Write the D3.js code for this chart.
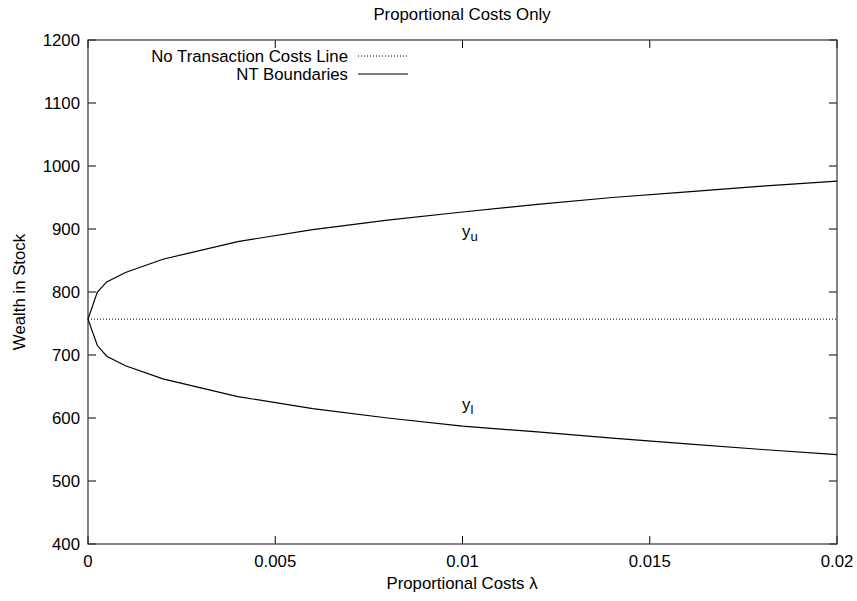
<!DOCTYPE html>
<html><head><meta charset="utf-8">
<script src="https://cdn.jsdelivr.net/npm/d3@7"></script>
<style>body{margin:0;background:#fff}svg{display:block}text{font-family:"Liberation Sans",Arial,sans-serif;fill:#000}</style>
</head><body>
<script>
const lambdas = [0, 0.00025, 0.0005, 0.001, 0.002, 0.004, 0.006, 0.008, 0.01, 0.012, 0.014, 0.016, 0.018, 0.02];
const upper   = [757, 800, 816, 831, 852, 880, 899, 914, 927, 939, 950, 959, 968, 976];
const lower   = [757, 715, 698, 683, 662, 634, 615, 600, 587, 578, 568, 559, 550, 542];
const noTC = 757;
const xTicks = [0, 0.005, 0.01, 0.015, 0.02];
const xTickLabels = ["0", "0.005", "0.01", "0.015", "0.02"];
const yTicks = [400, 500, 600, 700, 800, 900, 1000, 1100, 1200];

const W = 857, H = 601;
const m = {l: 88, r: 20, t: 40, b: 57};
const FS = 16.8;
const svg = d3.select("body").append("svg").attr("width", W).attr("height", H);
const x = d3.scaleLinear().domain([0, 0.02]).range([m.l, W - m.r]);
const y = d3.scaleLinear().domain([400, 1200]).range([H - m.b, m.t]);
const T = 8;
const g = svg.append("g");

// ticks (mirrored, inward)
yTicks.forEach(v => {
  g.append("line").attr("x1", x.range()[0]).attr("x2", x.range()[0] + T).attr("y1", y(v)).attr("y2", y(v)).attr("stroke", "#000");
  g.append("line").attr("x1", x.range()[1]).attr("x2", x.range()[1] - T).attr("y1", y(v)).attr("y2", y(v)).attr("stroke", "#000");
  g.append("text").attr("x", x.range()[0] - 8).attr("y", y(v) + 6).attr("text-anchor", "end").attr("font-size", FS).text(v);
});
xTicks.forEach((v, i) => {
  g.append("line").attr("x1", x(v)).attr("x2", x(v)).attr("y1", y.range()[0]).attr("y2", y.range()[0] - T).attr("stroke", "#000");
  g.append("line").attr("x1", x(v)).attr("x2", x(v)).attr("y1", y.range()[1]).attr("y2", y.range()[1] + T).attr("stroke", "#000");
  g.append("text").attr("x", x(v)).attr("y", y.range()[0] + 23).attr("text-anchor", "middle").attr("font-size", FS).text(xTickLabels[i]);
});

// frame
g.append("rect").attr("x", x.range()[0]).attr("y", y.range()[1]).attr("width", x.range()[1] - x.range()[0]).attr("height", y.range()[0] - y.range()[1]).attr("fill", "none").attr("stroke", "#333").attr("stroke-width", 1.2);

// data
g.append("line").attr("x1", x(0)).attr("x2", x(0.02)).attr("y1", y(noTC)).attr("y2", y(noTC)).attr("stroke", "#000").attr("stroke-width", 1).attr("stroke-dasharray", "1,2");
const line = d3.line().x((d, i) => x(lambdas[i])).y(d => y(d));
g.append("path").attr("d", line(upper)).attr("fill", "none").attr("stroke", "#000").attr("stroke-width", 1.2);
g.append("path").attr("d", line(lower)).attr("fill", "none").attr("stroke", "#000").attr("stroke-width", 1.2);

// curve labels
const lu = g.append("text").attr("x", 462).attr("y", 237).attr("font-size", FS);
lu.append("tspan").text("y");
lu.append("tspan").attr("dy", 4).attr("font-size", 13).text("u");
const ll = g.append("text").attr("x", 462).attr("y", 410).attr("font-size", FS);
ll.append("tspan").text("y");
ll.append("tspan").attr("dy", 4).attr("font-size", 13).text("l");

// legend
g.append("text").attr("x", 348).attr("y", 62).attr("text-anchor", "end").attr("font-size", FS).text("No Transaction Costs Line");
g.append("line").attr("x1", 358).attr("x2", 407).attr("y1", 56).attr("y2", 56).attr("stroke", "#000").attr("stroke-dasharray", "1,2");
g.append("text").attr("x", 348).attr("y", 80).attr("text-anchor", "end").attr("font-size", FS).text("NT Boundaries");
g.append("line").attr("x1", 358).attr("x2", 408).attr("y1", 74).attr("y2", 74).attr("stroke", "#000").attr("stroke-width", 1.2);

// titles
svg.append("text").attr("x", 462).attr("y", 20).attr("text-anchor", "middle").attr("font-size", FS).text("Proportional Costs Only");
svg.append("text").attr("x", 462).attr("y", 589).attr("text-anchor", "middle").attr("font-size", FS).text("Proportional Costs λ");
svg.append("text").attr("transform", "translate(25,292) rotate(-90)").attr("text-anchor", "middle").attr("font-size", FS).text("Wealth in Stock");
</script>
</body></html>
